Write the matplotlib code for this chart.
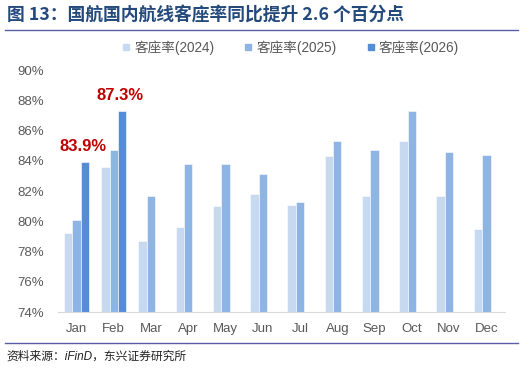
import numpy as np
import matplotlib.pyplot as plt
from matplotlib.lines import Line2D

plt.rcParams['font.family'] = ['Liberation Sans', 'Noto Sans CJK SC', 'DejaVu Sans']

months = ['Jan', 'Feb', 'Mar', 'Apr', 'May', 'Jun', 'Jul', 'Aug', 'Sep', 'Oct', 'Nov', 'Dec']
lf_2024 = [79.2, 83.6, 78.7, 79.6, 81.0, 81.8, 81.1, 84.3, 81.7, 85.3, 81.7, 79.5]
lf_2025 = [80.1, 84.7, 81.7, 83.8, 83.8, 83.1, 81.3, 85.3, 84.7, 87.3, 84.6, 84.4]
lf_2026 = [83.9, 87.3]
series_names = ['客座率(2024)', '客座率(2025)', '客座率(2026)']
colors = ['#C6D9F1', '#8DB4E2', '#548DD4']

fig = plt.figure(figsize=(5.26, 3.71), dpi=100)
fig.patch.set_facecolor('white')
ax = fig.add_axes([0.110, 0.159, 0.850, 0.652])

x = np.arange(len(months))
w = 0.225
ax.bar(x - w, lf_2024, w, color=colors[0], edgecolor='white', linewidth=0.4)
ax.bar(x, lf_2025, w, color=colors[1], edgecolor='white', linewidth=0.4)
x26 = x[:len(lf_2026)] + w
ax.bar(x26, lf_2026, w, color=colors[2], edgecolor='white', linewidth=0.4)

for xi, v in zip(x26, lf_2026):
    ax.text(xi - 0.05, v + 0.55, f'{v:.1f}%', ha='center', va='bottom',
            color='#C00000', fontsize=12, fontweight='bold')

ax.set_ylim(74, 90)
ax.set_xlim(-0.5, len(months) - 0.5)
ax.set_yticks(np.arange(74, 91, 2))
ax.set_yticklabels([f'{t}%' for t in range(74, 91, 2)])
ax.set_xticks(x)
ax.set_xticklabels(months)
ax.tick_params(axis='both', length=0, colors='#595959', labelsize=9.5)
ax.tick_params(axis='x', pad=8)
ax.tick_params(axis='y', pad=10)
for s in ['left', 'right', 'top']:
    ax.spines[s].set_visible(False)
ax.spines['bottom'].set_color('#D9D9D9')

handles = [Line2D([], [], marker='s', linestyle='', markersize=5, color=c) for c in colors]
fig.legend(handles, series_names, loc='center', bbox_to_anchor=(0.55, 0.872), ncol=3,
           frameon=False, fontsize=9.8, labelcolor='#595959', handletextpad=0.1,
           columnspacing=2.0, handlelength=1.0)

fig.text(0.013, 0.958, '图 13：国航国内航线客座率同比提升 2.6 个百分点', fontsize=12.8,
         fontweight='bold', color='#244A7C', va='center',
         family=['Noto Sans CJK SC', 'DejaVu Sans'])
fig.add_artist(Line2D([0.01, 0.985], [0.919, 0.919], color='#5B5EA6', linewidth=1.0))
fig.add_artist(Line2D([0.01, 0.985], [0.075, 0.075], color='#5B5EA6', linewidth=1.0))
fig.text(0.013, 0.04, '资料来源：iFinD，东兴证券研究所', fontsize=8.5, style='italic',
         color='#222222', va='center', family=['Liberation Sans', 'Noto Sans CJK SC'])

fig.savefig('out.png', dpi=100, facecolor='white')
